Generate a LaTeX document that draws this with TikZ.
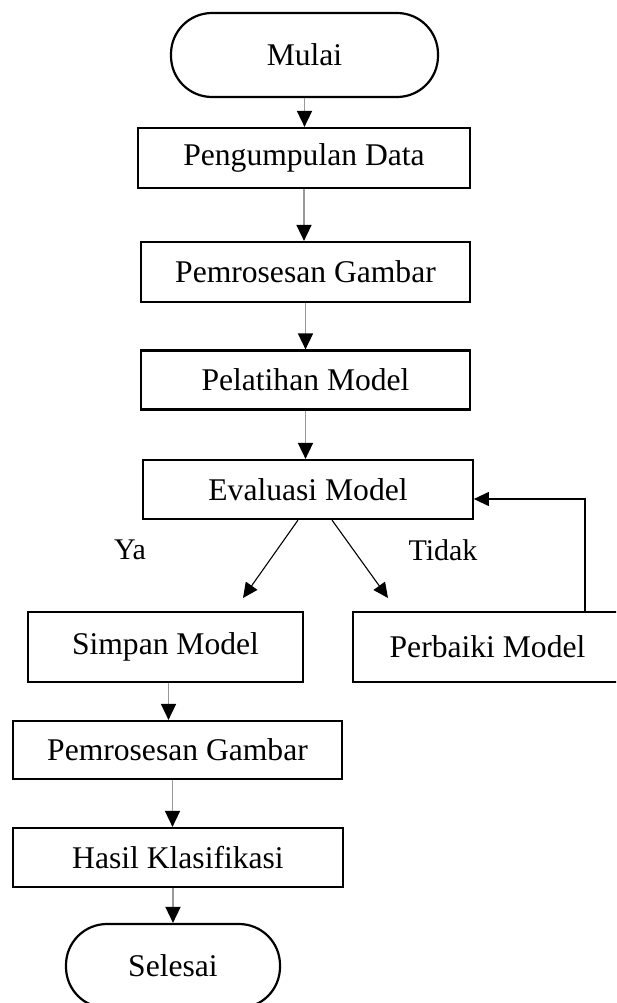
\documentclass[tikz,border=0pt]{standalone}
\usepackage{fontspec}
\setmainfont{Liberation Serif}
\usetikzlibrary{arrows.meta}
\begin{document}
\begin{tikzpicture}[x=1pt,y=-1pt,
  box/.style={draw=black,line width=2.2pt,rectangle,inner sep=0pt,font=\fontsize{31.6}{38}\selectfont},
  term/.style={box,rounded corners=41pt},
  flow/.style={draw=black!40,line width=1.6pt,-{Triangle[width=15pt,length=16pt,fill=black,color=black]}},
  diag/.style={draw=black,line width=1.1pt,-{Triangle[width=14pt,length=15pt]}},
  lbl/.style={inner sep=0pt,font=\fontsize{30}{36}\selectfont}]
\clip (0,0) rectangle (616,1003);
\useasboundingbox (0,0) rectangle (616,1003);
\node[term,minimum width=267pt,minimum height=84pt] (mulai) at (304.5,55) {Mulai};
\node[box,minimum width=332pt,minimum height=60pt] (p1) at (304,158) {Pengumpulan Data};
\node[box,minimum width=329pt,minimum height=60pt] (p2) at (305.5,272) {Pemrosesan Gambar};
\node[box,minimum width=329pt,minimum height=59pt] (p3) at (305.5,380) {Pelatihan Model};
\node[box,minimum width=329.5pt,minimum height=59pt] (p4) at (308,489.5) {Evaluasi Model};
\node[box,minimum width=275.5pt,minimum height=70pt] (simpan) at (165.5,647) {Simpan Model};
\node[box,minimum width=269pt,minimum height=70pt] (perbaiki) at (487.5,647) {Perbaiki Model};
\node[box,minimum width=329pt,minimum height=58pt] (p5) at (177.5,750) {Pemrosesan Gambar};
\node[box,minimum width=330pt,minimum height=59pt] (hasil) at (178,857.5) {Hasil Klasifikasi};
\node[term,minimum width=214pt,minimum height=84pt] (selesai) at (173,966) {Selesai};
\node[lbl] (ya) at (130,550) {Ya};
\node[lbl] (tidak) at (443,550) {Tidak};
\coordinate (yaend) at (243,598);
\coordinate (tidakend) at (388,598);
\draw[flow] (mulai.south) -- (mulai.south |- p1.north);
\draw[flow] (p1.south) -- (p1.south |- p2.north);
\draw[flow] (p2.south) -- (p2.south |- p3.north);
\draw[flow] (p3.south) -- (p3.south |- p4.north);
\draw[flow] ([xshift=3pt]simpan.south) -- ([xshift=3pt]simpan.south |- p5.north);
\draw[flow] ([xshift=-5pt]p5.south) -- ([xshift=-5pt]p5.south |- hasil.north);
\draw[flow] ([xshift=-5pt]hasil.south) -- ([xshift=-5pt]hasil.south |- selesai.north);
\draw[diag] ([xshift=-10pt]p4.south) -- (yaend);
\draw[diag] ([xshift=24pt]p4.south) -- (tidakend);
\draw[diag] ([xshift=97.5pt]perbaiki.north) |- ([yshift=-9.5pt]p4.east);
\end{tikzpicture}
\end{document}
